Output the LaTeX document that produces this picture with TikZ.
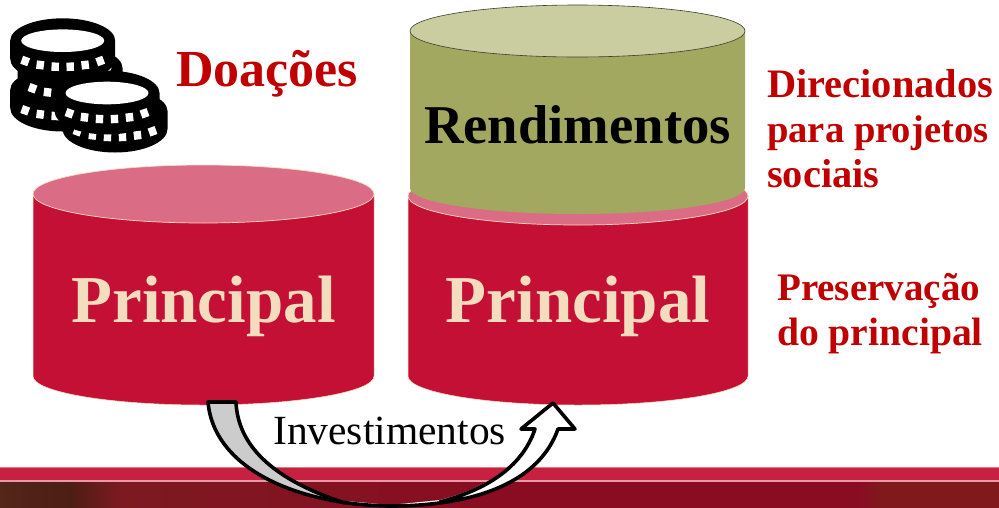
\documentclass[tikz,border=0pt]{standalone}
\usepackage{fontspec}
\setmainfont{Liberation Serif}
\definecolor{crim}{HTML}{C41035}
\definecolor{crimtop}{HTML}{DB6C86}
\definecolor{edgecream}{HTML}{F3DDBE}
\definecolor{olive}{HTML}{A2A85F}
\definecolor{olivetop}{HTML}{C9CDA0}
\definecolor{txtred}{HTML}{C00000}
\definecolor{bar}{HTML}{C82040}
\definecolor{darkL}{HTML}{54261A}
\definecolor{darkK}{HTML}{4C1E14}
\definecolor{darkM}{HTML}{7C1A20}
\definecolor{darkR}{HTML}{8A0C22}
\definecolor{darkE}{HTML}{80191C}
\tikzset{
  cyl/.style={fill=crim,draw=edgecream,line width=0.5pt},
  cyltop/.style={fill=crimtop,draw=edgecream,line width=0.7pt},
  redtext/.style={text=txtred,font=\bfseries\fontsize{#1}{#1}\selectfont,inner sep=0pt,anchor=base west},
  bigtext/.style={font=\bfseries\fontsize{67}{67}\selectfont,text=edgecream,inner sep=0pt,anchor=base},
  arrowline/.style={draw=black,line width=3.6pt,line join=round,line cap=round}
}
\newcommand\coinshape[2]{%
  \begin{scope}[shift={(#1,#2)}]
    \fill[black] (-52.5,0) arc[start angle=180,end angle=360,x radius=52.5,y radius=22.4]
       -- (52.5,18) arc[start angle=0,end angle=180,x radius=52.5,y radius=23.5] -- cycle;
    \fill[white] (0,0) ellipse[x radius=41.5,y radius=11.3];
    \foreach \dx/\dy/\ang in {-37.5/20.3/-20,-22.5/24.3/-7,-7.5/26/-2,7.5/26/2,22.5/24.3/7,37.5/20.3/20}{
      \fill[white,shift={(\dx,\dy)},rotate=\ang] (-3.7,-4.2) rectangle (3.7,4.2);
    }
  \end{scope}}
\begin{document}
\begin{tikzpicture}[x=1pt,y=-1pt]
\useasboundingbox (0,0) rectangle (999,507);
\clip (0,0) rectangle (999,507);
% bottom band
\fill[bar] (0,467) rectangle (999,480);
\fill[edgecream!50!bar] (0,467) rectangle (999,468);
\fill[darkR] (0,481) rectangle (1005,515);
\fill[left color=darkL,right color=darkK] (0,481) rectangle (70,515);
\fill[left color=darkK,right color=darkM] (70,481) rectangle (120,515);
\fill[left color=darkM,right color=darkR] (120,481) rectangle (500,515);
\fill[left color=darkR,right color=darkE] (860,481) rectangle (880,515);
\fill[darkE] (880,481) rectangle (1005,515);
\fill[white!55!bar] (0,480) rectangle (999,481.5);
% left cylinder
\path[cyl] (33,194) -- (33,376) arc[start angle=180,end angle=360,x radius=170.5,y radius=-29] -- (374,194) -- cycle;
\path[cyltop] (203.5,194) ellipse[x radius=170.5,y radius=29];
\node[bigtext] (p1) at (203.5,322) {Principal};
% right cylinder
\path[cyl] (408,196) -- (408,376) arc[start angle=180,end angle=360,x radius=170,y radius=-29] -- (748,196) -- cycle;
\path[cyltop] (578,196) ellipse[x radius=170,y radius=29];
\node[bigtext] (p2) at (578,322) {Principal};
% green cylinder
\fill[olive] (410,31) -- (410,188) arc[start angle=180,end angle=360,x radius=167.5,y radius=-26] -- (745,31) -- cycle;
\draw[olivetop!30!black,line width=0.6pt,fill=olivetop] (577.5,31) ellipse[x radius=167.5,y radius=26];
\node[font=\bfseries\fontsize{54.7}{54.7}\selectfont,text=black,inner sep=0pt,anchor=base] (r) at (577.5,143) {Rendimentos};
% coins
\coinshape{62.7}{90}
\coinshape{70}{68}
\coinshape{62.7}{40.7}
\coinshape{115}{111}
\coinshape{107}{93}
% texts
\node[redtext=52] (d) at (176,86) {Doações};
\node[redtext=40.4] (t1) at (767,97) {Direcionados};
\node[redtext=38.6] (t2) at (767,142) {para projetos};
\node[redtext=40.4] (t3) at (767,187) {sociais};
\node[redtext=39] (t4) at (777,300) {Preservação};
\node[redtext=39.6] (t5) at (777,345) {do principal};
\node[font=\fontsize{41.5}{41.5}\selectfont,text=black,inner sep=0pt,anchor=base west] (inv) at (273,444) {Investimentos};
% curved arrow
\coordinate (tailA) at (208,402);
\coordinate (tailB) at (236,402);
\coordinate (tip) at (553,403);
\fill[white] (tailB) -- (tailA) .. controls (214,470) and (300,505) .. (390,505)
   .. controls (480,505) and (540,480) .. (558,429) -- (575,429) -- (tip) -- (521,429) -- (533,429)
   .. controls (522,468) and (480,490) .. (440,500) -- (390,505) -- (333,500) .. controls (280,480) and (238,450) .. (tailB) -- cycle;
\fill[black!20] (tailB) -- (tailA) .. controls (214,470) and (300,505) .. (390,505) -- (333,500) .. controls (280,480) and (238,450) .. (tailB) -- cycle;
\draw[arrowline] (tailB) -- (tailA) .. controls (214,470) and (300,505) .. (390,506)
   .. controls (480,506) and (540,480) .. (558,429) -- (575,429) -- (tip) -- (521,429) -- (535,429)
   .. controls (522,468) and (485,490) .. (440,502);
\draw[arrowline] (tailB) .. controls (238,450) and (280,482) .. (345,503);
\end{tikzpicture}
\end{document}
